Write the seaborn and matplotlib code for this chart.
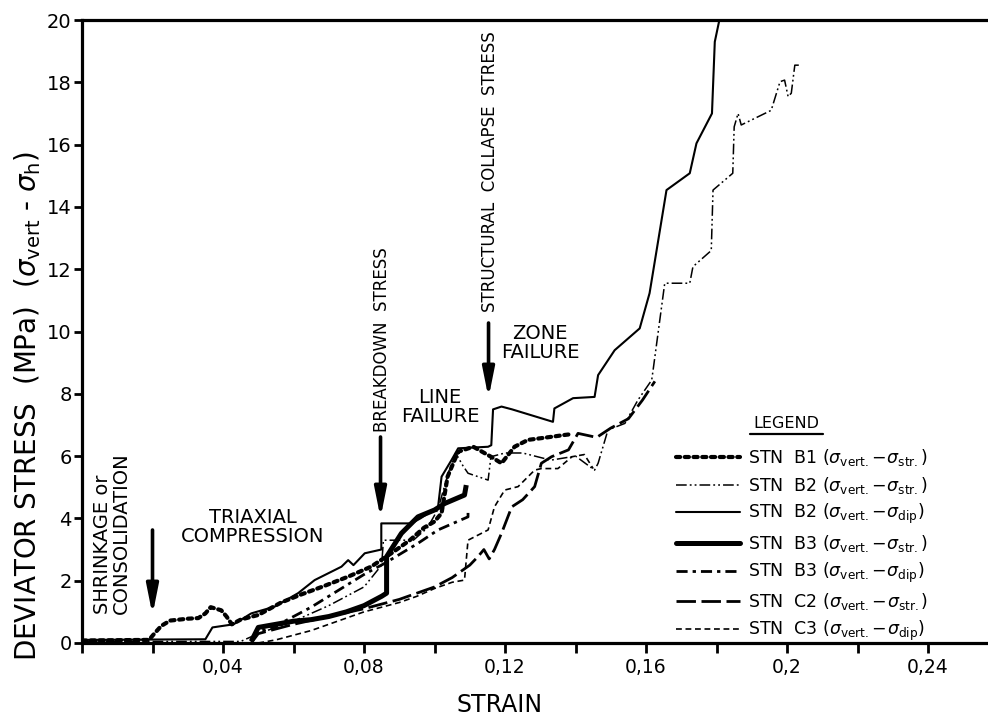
import matplotlib
matplotlib.use("Agg")
import matplotlib.pyplot as plt
from matplotlib.lines import Line2D
import seaborn as sns
import pandas as pd

# ---- measured curves: strain (-) vs deviator stress (MPa) ----
b1_str_strain = [0.0, 0.019, 0.0205, 0.0225, 0.025, 0.030, 0.033, 0.035, 0.0365, 0.038, 0.0395, 0.041,
                 0.0425, 0.045, 0.050, 0.0565, 0.062, 0.068, 0.0755, 0.082, 0.088, 0.093, 0.097, 0.100,
                 0.102, 0.1037, 0.1067, 0.111, 0.116, 0.119, 0.1227, 0.1265, 0.1332, 0.137, 0.1385]
b1_str_stress = [0.08, 0.1, 0.3, 0.55, 0.72, 0.78, 0.8, 0.95, 1.15, 1.1, 1.05, 0.85,
                 0.6, 0.75, 0.9, 1.3, 1.55, 1.8, 2.13, 2.45, 2.9, 3.3, 3.7, 3.9,
                 4.17, 5.34, 6.14, 6.3, 5.98, 5.77, 6.3, 6.52, 6.62, 6.68, 6.7]

b2_str_strain = [0.0, 0.045, 0.050, 0.060, 0.070, 0.080, 0.085, 0.0855, 0.094, 0.098, 0.101, 0.104,
                 0.106, 0.108, 0.1095, 0.1152, 0.116, 0.120, 0.125, 0.133, 0.140, 0.1454, 0.1464,
                 0.1492, 0.154, 0.1577, 0.1616, 0.162, 0.1653, 0.1724, 0.1733, 0.1785, 0.179, 0.1846,
                 0.185, 0.1861, 0.187, 0.1955, 0.198, 0.1993, 0.2003, 0.2012, 0.2022, 0.2041]
b2_str_stress = [0.05, 0.05, 0.3, 0.7, 1.2, 1.8, 2.5, 3.3, 3.3, 3.7, 4.3, 5.5,
                 6.1, 5.7, 5.45, 5.23, 5.98, 6.1, 6.1, 5.87, 6.0, 5.55, 5.77,
                 6.84, 7.05, 7.8, 8.44, 8.76, 11.55, 11.55, 12.08, 12.6, 14.54, 15.08,
                 16.57, 17.0, 16.63, 17.1, 18.02, 18.07, 17.54, 17.65, 18.55, 18.55]

b2_dip_strain = [0.0, 0.035, 0.037, 0.043, 0.048, 0.0547, 0.0613, 0.066, 0.0736, 0.0755, 0.077,
                 0.0802, 0.0849, 0.0849, 0.0934, 0.096, 0.101, 0.102, 0.1048, 0.1067, 0.1152,
                 0.1161, 0.1166, 0.119, 0.122, 0.1336, 0.134, 0.1393, 0.1454, 0.1464, 0.1511,
                 0.1582, 0.161, 0.1658, 0.1724, 0.1743, 0.1787, 0.1795, 0.1808]
b2_dip_stress = [0.1, 0.12, 0.5, 0.6, 0.95, 1.17, 1.6, 2.02, 2.45, 2.66, 2.5,
                 2.88, 3.0, 3.84, 3.84, 4.0, 4.37, 5.34, 5.87, 6.25, 6.3,
                 6.35, 7.5, 7.59, 7.5, 7.1, 7.53, 7.86, 7.9, 8.6, 9.4,
                 10.1, 11.23, 14.54, 15.08, 16.04, 17.0, 19.3, 20.0]

b3_str_strain = [0.048, 0.050, 0.055, 0.060, 0.065, 0.070, 0.075, 0.080, 0.085, 0.0864, 0.0864,
                 0.0906, 0.0953, 0.100, 0.1029, 0.1085, 0.109]
b3_str_stress = [0.05, 0.5, 0.6, 0.7, 0.75, 0.85, 1.0, 1.2, 1.5, 1.6, 2.77,
                 3.52, 4.05, 4.27, 4.48, 4.75, 5.07]

b3_dip_strain = [0.048, 0.050, 0.055, 0.060, 0.065, 0.070, 0.075, 0.080, 0.0859, 0.0906, 0.0953,
                 0.101, 0.1095, 0.1095]
b3_dip_stress = [0.05, 0.35, 0.55, 0.85, 1.15, 1.5, 1.85, 2.2, 2.56, 2.88, 3.2,
                 3.63, 4.05, 4.25]

c2_str_strain = [0.048, 0.050, 0.060, 0.070, 0.080, 0.090, 0.100, 0.105, 0.110, 0.1123, 0.114,
                 0.1155, 0.117, 0.119, 0.1219, 0.125, 0.1284, 0.1303, 0.1332, 0.138, 0.1407,
                 0.146, 0.150, 0.155, 0.159, 0.1625]
c2_str_stress = [0.0, 0.3, 0.6, 0.85, 1.1, 1.4, 1.8, 2.1, 2.5, 2.77, 3.0,
                 2.7, 3.0, 3.52, 4.37, 4.6, 5.02, 5.77, 5.98, 6.2, 6.73,
                 6.6, 6.9, 7.2, 7.8, 8.4]

c3_dip_strain = [0.050, 0.055, 0.060, 0.065, 0.070, 0.075, 0.080, 0.085, 0.090, 0.095, 0.100,
                 0.105, 0.1085, 0.1095, 0.1152, 0.117, 0.1199, 0.1237, 0.1284, 0.1303, 0.135,
                 0.139, 0.1425, 0.145]
c3_dip_stress = [0.0, 0.1, 0.25, 0.4, 0.6, 0.8, 1.0, 1.15, 1.3, 1.5, 1.75,
                 1.95, 2.02, 3.3, 3.63, 4.37, 4.91, 5.02, 5.55, 5.6, 5.6,
                 5.98, 6.05, 5.6]

series_labels = [
    r"STN  B1 ($\sigma_{\mathrm{vert.}}\!-\!\sigma_{\mathrm{str.}}$)",
    r"STN  B2 ($\sigma_{\mathrm{vert.}}\!-\!\sigma_{\mathrm{str.}}$)",
    r"STN  B2 ($\sigma_{\mathrm{vert.}}\!-\!\sigma_{\mathrm{dip}}$)",
    r"STN  B3 ($\sigma_{\mathrm{vert.}}\!-\!\sigma_{\mathrm{str.}}$)",
    r"STN  B3 ($\sigma_{\mathrm{vert.}}\!-\!\sigma_{\mathrm{dip}}$)",
    r"STN  C2 ($\sigma_{\mathrm{vert.}}\!-\!\sigma_{\mathrm{str.}}$)",
    r"STN  C3 ($\sigma_{\mathrm{vert.}}\!-\!\sigma_{\mathrm{dip}}$)",
]

x_ticks = [0.0, 0.02, 0.04, 0.06, 0.08, 0.10, 0.12, 0.14, 0.16, 0.18, 0.20, 0.22, 0.24]
x_tick_labels = ["", "", "0,04", "", "0,08", "", "0,12", "", "0,16", "", "0,2", "", "0,24"]
y_ticks = [0, 2, 4, 6, 8, 10, 12, 14, 16, 18, 20]

sns.set_theme(style="white")
plt.rcParams["font.family"] = ["DejaVu Sans"]
plt.rcParams["mathtext.fontset"] = "dejavusans"
plt.rcParams["text.color"] = "black"
plt.rcParams["xtick.color"] = "black"
plt.rcParams["ytick.color"] = "black"
plt.rcParams["axes.labelcolor"] = "black"

W, H = 988, 719
fig = plt.figure(figsize=(W / 100, H / 100), dpi=100)
ax = fig.add_axes([82 / W, 76 / H, 906 / W, 623 / H])

curves = [
    (b1_str_strain, b1_str_stress, dict(lw=3.0, linestyle=(0, (1.0, 1.1)), dash_capstyle="round")),
    (b2_str_strain, b2_str_stress, dict(lw=1.1, linestyle=(0, (7, 2, 1.2, 2, 1.2, 2)))),
    (b2_dip_strain, b2_dip_stress, dict(lw=1.5, linestyle="-")),
    (b3_str_strain, b3_str_stress, dict(lw=3.6, linestyle="-")),
    (b3_dip_strain, b3_dip_stress, dict(lw=2.0, linestyle=(0, (4, 1.8, 1.2, 1.8)))),
    (c2_str_strain, c2_str_stress, dict(lw=2.0, linestyle=(0, (7, 2)))),
    (c3_dip_strain, c3_dip_stress, dict(lw=1.2, linestyle=(0, (3.5, 2.2)))),
]

handles = []
for (xs, ys, style), lab in zip(curves, series_labels):
    df = pd.DataFrame({"strain": xs, "stress": ys})
    sns.lineplot(data=df, x="strain", y="stress", sort=False, estimator=None,
                 color="black", ax=ax, legend=False, **style)
    ax.lines[-1].set_solid_capstyle("butt")
    handles.append(Line2D([], [], color="black", **style))

ax.set_xlim(0, 0.257)
ax.set_ylim(0, 20)
ax.set_xticks(x_ticks)
ax.set_xticklabels(x_tick_labels)
ax.set_yticks(y_ticks)
ax.set_yticklabels([str(v) for v in y_ticks])
ax.tick_params(axis="x", direction="out", length=7.5, width=2, color="black",
               labelcolor="black", labelsize=13.5, pad=3, bottom=True)
ax.tick_params(axis="y", direction="out", length=6, width=2, color="black",
               labelcolor="black", labelsize=14, pad=1.5, left=True)
ax.set_xlabel("")
ax.set_ylabel("")
for side in ["left", "bottom", "top"]:
    ax.spines[side].set_visible(True)
    ax.spines[side].set_color("black")
    ax.spines[side].set_linewidth(2.3)
ax.spines["right"].set_visible(False)
ax.set_facecolor("white")
fig.patch.set_facecolor("white")

def px(xp, yp):
    return ((xp - 82) / 3525.0, (643 - yp) / 31.15)

# axis titles
fig.text(500 / W, 1 - 705 / H, "STRAIN", ha="center", va="center", fontsize=17, color="black")
fig.text(28 / W, 1 - 406 / H,
         r"DEVIATOR STRESS  (MPa)  ($\sigma_{\mathrm{vert}}$ - $\sigma_{\mathrm{h}}$)",
         rotation=90, ha="center", va="center", fontsize=20, color="black")

# phase annotations
ax.text(*px(112, 614), "SHRINKAGE or\nCONSOLIDATION", rotation=90, ha="center",
        va="bottom", fontsize=14, multialignment="left", linespacing=1.0, color="black")
ax.text(*px(253, 527), "TRIAXIAL\nCOMPRESSION", ha="center", va="center", fontsize=14,
        linespacing=1.05, color="black")
ax.text(*px(440, 407), "LINE\nFAILURE", ha="center", va="center", fontsize=14,
        linespacing=1.05, color="black")
ax.text(*px(540, 343), "ZONE\nFAILURE", ha="center", va="center", fontsize=14,
        linespacing=1.05, color="black")
ax.text(*px(382, 432), "BREAKDOWN  STRESS", rotation=90, ha="center", va="bottom",
        fontsize=12, color="black")
ax.text(*px(490, 312), "STRUCTURAL  COLLAPSE  STRESS", rotation=90, ha="center",
        va="bottom", fontsize=12, color="black")

arrow = dict(arrowstyle="-|>,head_width=0.22,head_length=1.1", lw=2.6, color="black",
             shrinkA=0, shrinkB=0, mutation_scale=16)
ax.annotate("", xy=px(152.5, 615), xytext=px(152.5, 530), arrowprops=arrow)
ax.annotate("", xy=px(380.5, 518), xytext=px(380.5, 437), arrowprops=arrow)
ax.annotate("", xy=px(488.5, 398), xytext=px(488.5, 323), arrowprops=arrow)

# legend
leg = ax.legend(handles=handles, labels=series_labels, loc="upper left",
                bbox_to_anchor=(676 / W, 1 - 447 / H), bbox_transform=fig.transFigure,
                frameon=False, fontsize=12.5, handlelength=3.7, handletextpad=0.45,
                labelspacing=0.38, borderpad=0, borderaxespad=0, labelcolor="black")
fig.text(786 / W, 1 - 424 / H, "LEGEND", ha="center", va="center", fontsize=11.5, color="black")
fig.add_artist(Line2D([750 / W, 823 / W], [1 - 434 / H] * 2, transform=fig.transFigure,
                      color="black", lw=1.6))

fig.savefig("out.png", dpi=100, facecolor="white")
